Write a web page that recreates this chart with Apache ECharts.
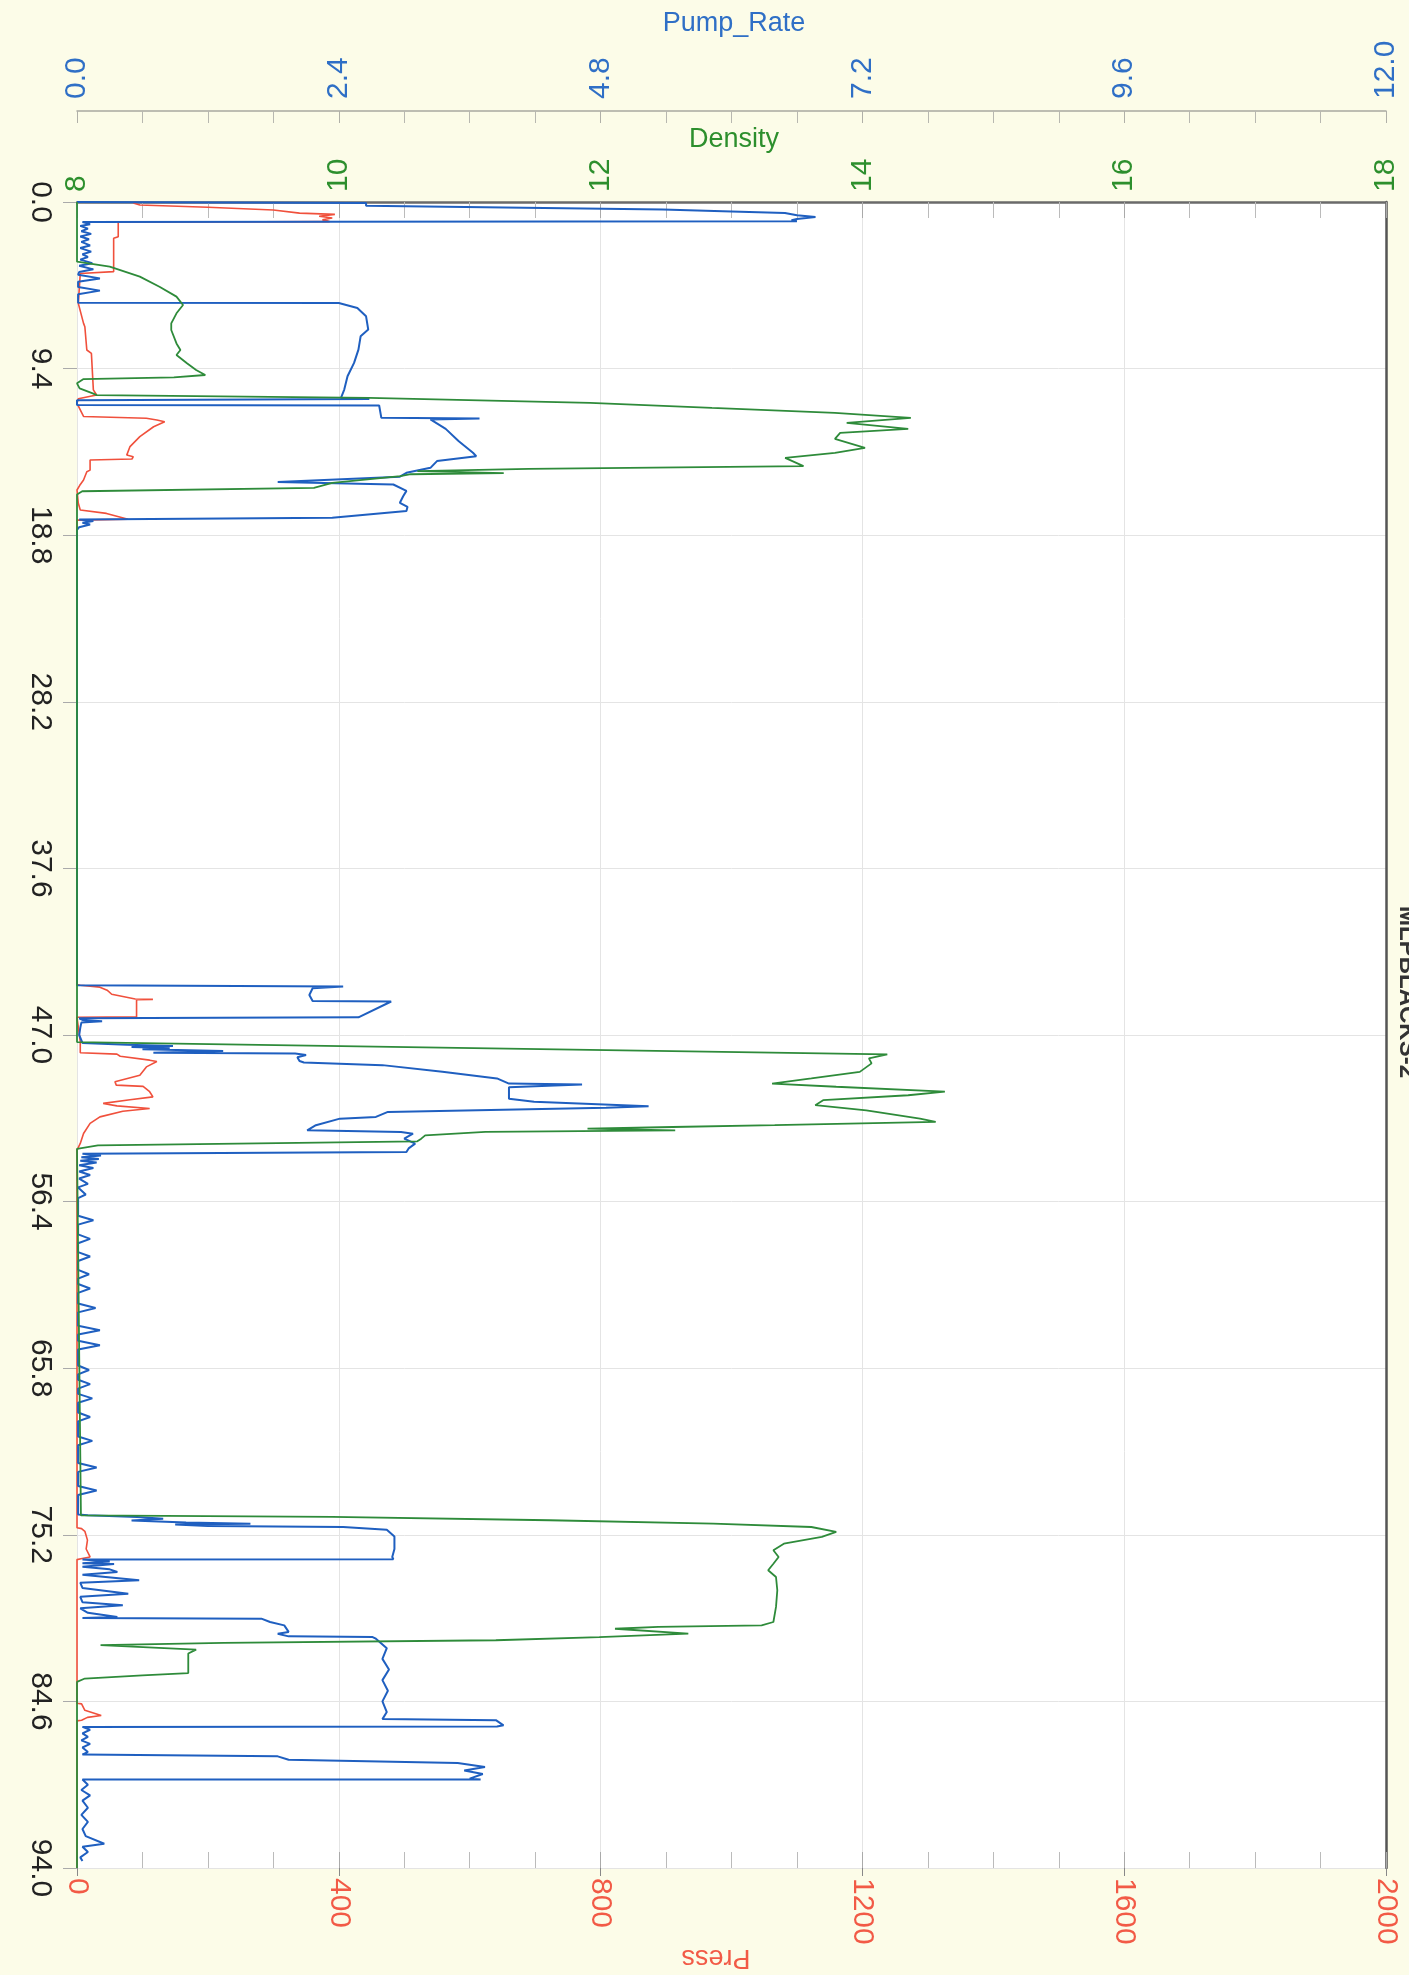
<!DOCTYPE html>
<html><head><meta charset="utf-8">
<script src="https://cdn.jsdelivr.net/npm/echarts@6.0.0/dist/echarts.min.js"></script>
<style>html,body{margin:0;padding:0;background:#fcfce8;}#c{width:1409px;height:1975px;}</style>
</head><body><div id="c"></div>
<script>
// ---- data (time in minutes) ----
const pumpT = [0,0.05,0.06,0.21,0.43,0.53,0.62,0.75,0.85,0.96,1.03,1.09,1.13,1.25,1.35,1.5,1.65,1.8,1.95,2.1,2.25,2.45,2.6,2.8,2.95,3.1,3.25,3.45,3.6,3.8,3.95,4.1,4.31,4.5,4.8,5.0,5.2,5.68,5.7,5.98,6.45,7.2,7.58,8.33,9.08,9.83,10.58,11.05,11.11,11.18,11.45,11.48,12.18,12.22,12.27,12.8,13.5,14.15,14.34,14.62,15.0,15.28,15.5,15.8,15.94,16.3,16.6,16.97,17.2,17.44,17.82,17.91,18.0,18.1,18.2,18.35,18.5,44.2,44.26,44.36,44.74,45.08,45.11,46.0,46.06,46.15,46.22,46.3,46.6,47.0,47.45,47.55,47.62,47.68,47.74,47.8,47.9,48.0,48.05,48.13,48.25,48.47,48.55,48.7,49.08,49.45,49.74,49.79,49.85,49.95,50.6,50.77,51.02,51.1,51.34,51.62,51.72,52.09,52.38,52.47,52.57,52.85,53.13,53.4,53.6,53.7,53.8,53.9,54.0,54.1,54.2,54.35,54.5,54.7,54.9,55.1,55.4,55.6,56.0,56.2,57.2,57.45,57.7,58.25,58.5,58.75,59.25,59.5,59.75,60.25,60.5,60.75,61.05,61.3,61.55,62.15,62.4,62.65,63.4,63.66,63.9,64.25,64.5,64.75,65.65,65.9,66.15,66.45,66.7,66.95,67.25,67.5,67.75,68.3,68.55,68.8,69.65,69.9,70.15,71.15,71.4,71.65,72.45,72.7,72.95,74.05,74.1,74.2,74.29,74.4,74.5,74.57,74.62,74.7,74.76,74.91,75.3,76.0,76.45,76.58,76.6,76.7,76.8,76.85,77.0,77.15,77.3,77.45,77.77,77.9,78.2,78.52,78.7,79.0,79.17,79.35,79.6,79.84,79.9,79.93,80.12,80.31,80.68,80.78,80.93,80.97,81.06,81.6,82.2,82.8,83.4,84.0,84.6,85.2,85.6,85.66,85.95,86.02,86.04,86.2,86.4,86.6,86.8,87.0,87.2,87.45,87.6,87.7,87.89,88.07,88.3,88.5,88.7,88.96,89.0,89.01,89.3,89.6,89.9,90.2,90.6,91.0,91.4,91.8,92.2,92.63,92.8,93.1,93.4,93.6];
const pumpRate = [0,0,2.65,2.65,5.37,6.0,6.49,6.6,6.77,6.6,6.55,6.6,0.05,0.12,0.03,0.1,0.04,0.13,0.03,0.11,0.04,0.12,0.03,0.13,0.05,0.1,0.03,0.14,0.02,0.15,0.02,0.01,0.21,0.01,0.01,0.21,0.01,0.01,2.4,2.57,2.65,2.67,2.6,2.58,2.54,2.48,2.45,2.42,2.68,0,0,2.77,2.79,3.69,3.24,3.38,3.5,3.63,3.66,3.3,3.24,3.02,2.96,1.84,2.9,3.02,2.99,2.96,3.03,3.02,2.34,0.02,0.15,0.05,0.12,0.02,0,0,2.44,2.16,2.13,2.16,2.88,2.58,0.02,0.05,0.23,0.04,0.03,0.02,0.05,0.46,0.88,0.5,0.85,0.6,1.34,0.7,2.0,2.1,2.02,2.04,2.08,2.8,3.35,3.85,3.96,4.63,4.38,3.96,3.96,4.19,5.24,4.85,2.85,2.74,2.41,2.19,2.11,2.97,3.08,3.0,3.1,3.04,3.02,0.05,0.22,0.04,0.2,0.03,0.18,0.02,0.15,0.02,0.12,0.02,0.1,0.01,0.08,0.01,0.01,0.15,0.01,0.01,0.12,0.01,0.01,0.12,0.01,0.01,0.11,0.01,0.01,0.12,0.01,0.01,0.17,0.01,0.01,0.21,0.01,0.01,0.21,0.01,0.01,0.11,0.01,0.01,0.12,0.01,0.01,0.14,0.01,0.01,0.12,0.01,0.01,0.14,0.01,0.01,0.18,0.01,0.01,0.18,0.01,0.01,0.1,0.55,0.79,0.5,1.0,1.59,0.9,1.2,2.44,2.84,2.91,2.91,2.89,2.9,0.05,0.3,0.05,0.34,0.05,0.3,0.37,0.05,0.57,0.03,0.05,0.47,0.03,0.05,0.42,0.03,0.1,0.37,0.05,1.69,1.77,1.9,1.94,1.84,1.94,2.71,2.74,2.84,2.8,2.86,2.8,2.85,2.8,2.84,2.8,3.84,3.91,3.85,0.05,0.12,0.05,0.1,0.04,0.12,0.05,0.1,0.05,1.84,1.94,3.49,3.74,3.55,3.72,3.6,3.7,0.05,0.1,0.04,0.12,0.05,0.1,0.04,0.1,0.05,0.08,0.25,0.05,0.1,0.03,0.05];

const densT = [0,3.37,3.65,4.21,4.78,5.34,5.81,6.28,6.85,7.22,7.98,8.35,8.63,9.1,9.48,9.76,9.9,9.99,10.23,10.52,10.8,10.9,11.05,11.33,11.62,11.9,12.18,12.46,12.8,13.03,13.36,13.87,14.15,14.44,14.9,15.06,15.19,15.3,15.36,15.47,15.85,16.13,16.32,16.5,47.4,48.09,48.32,48.6,49.08,49.45,49.74,49.92,50.2,50.4,50.68,50.96,51.25,51.72,51.9,52.09,52.19,52.28,52.38,52.47,52.66,52.85,53.0,53.23,53.42,74.1,74.19,74.38,74.57,74.76,75.04,75.32,75.7,76.07,76.45,76.83,77.2,77.58,78.33,79.27,80.12,80.31,80.4,80.5,80.78,80.97,81.15,81.3,81.43,81.53,81.68,81.9,83.0,83.13,83.31,83.5,94];
const density = [8,8,8.25,8.48,8.63,8.76,8.81,8.76,8.72,8.72,8.76,8.79,8.76,8.84,8.91,8.98,8.74,8.05,8,8.02,8.12,8.15,10.23,11.92,12.85,13.79,14.37,13.88,14.35,13.83,13.79,14.02,13.79,13.41,13.55,11.45,10.6,11.26,10.55,10.47,9.95,9.81,8.04,8,8,14.19,14.05,14.07,13.98,13.61,13.31,13.8,14.63,14.35,13.7,13.64,14.03,14.44,14.56,13.33,12.55,11.9,12.57,11.12,10.66,10.63,10.6,8.16,8,8.03,9.95,11.61,12.86,13.61,13.8,13.69,13.4,13.32,13.36,13.32,13.28,13.34,13.35,13.34,13.32,13.23,12.44,12.11,12.67,11.99,11.2,9.12,8.18,8.18,8.91,8.85,8.85,8.5,8.06,8,8];

const pressT = [0.05,0.17,0.3,0.45,0.63,0.7,0.8,0.9,1.0,1.11,1.14,1.96,2.05,3.93,4.03,5.72,5.81,6.85,7.04,8.35,8.54,10.6,10.89,10.99,11.1,11.36,12.1,12.2,12.3,12.4,12.68,13.24,13.8,14.28,14.37,14.5,14.56,15.13,15.22,15.69,16.0,16.25,17.0,17.38,17.57,17.9,17.95,44.15,44.19,44.3,44.47,44.7,44.97,44.99,45.01,45.98,46.0,47.38,48.0,48.08,48.2,48.42,48.5,48.8,49.27,49.64,49.83,49.9,50.2,50.49,50.65,50.86,51.0,51.15,51.2,51.3,51.62,51.99,52.56,53.12,53.5,74.8,74.85,75.0,75.5,76.0,76.45,76.55,76.6,84.7,84.74,85.1,85.4,85.5,85.66,85.7,94];
const press = [86,96,200,300,340,394,370,390,375,386,63,63,56,56,5,2,5,10,12,15,22,25,30,30,2,0,10,106,122,134,117,96,81,76,86,84,20,20,15,10,4,0,2,5,45,78,0,0,5,35,46,53,89,116,91,91,0,5,5,61,66,111,122,106,96,58,60,101,111,116,81,40,61,111,111,70,35,20,10,5,0,0,7,12,16,14,20,6,0,0,7,12,37,16,7,0,0];

const timeTicks = {min: 0, max: 94, step: 9.4};
const pumpTicks = {min: 0, max: 12, step: 2.4};
const densTicks = {min: 8, max: 18, step: 2};
const pressTicks = {min: 0, max: 2000, step: 400};

// ---- chart ----
const tickFont = "'Liberation Sans',Arial,sans-serif";
const titleFont = "'Liberation Sans',Arial,sans-serif";
const BLUE = '#1f5fc0', GREEN = '#2e8b3a', RED = '#f0503c';
const zip = (ts, vs) => ts.map((t, i) => [vs[i], t]);

const chart = echarts.init(document.getElementById('c'), null, {renderer: 'canvas'});
chart.setOption({
  animation: false,
  backgroundColor: '#fcfce8',
  grid: {left: 77, right: 23, top: 202, bottom: 107, show: true, backgroundColor: '#ffffff', borderWidth: 0, containLabel: false, outerBoundsMode: 'none'},
  xAxis: [
    {type: 'value', position: 'top', offset: 91, min: pumpTicks.min, max: pumpTicks.max, interval: pumpTicks.step,
     axisLine: {show: true, onZero: false, lineStyle: {color: '#a8a8a0', width: 1.5}},
     axisTick: {show: true, inside: true, length: 12, lineStyle: {color: '#b0b0a8'}},
     minorTick: {show: true, splitNumber: 4, length: 12, lineStyle: {color: '#b8b8b0'}},
     axisLabel: {rotate: -90, margin: 12, color: '#2f6fc6', fontSize: 30, fontFamily: tickFont, formatter: v => v.toFixed(1)},
     splitLine: {show: false}},
    {type: 'value', position: 'top', offset: 0, min: densTicks.min, max: densTicks.max, interval: densTicks.step,
     axisLine: {show: true, onZero: false, lineStyle: {color: '#6a6a6a', width: 2.5}},
     axisTick: {show: true, inside: true, length: 16, lineStyle: {color: '#aaaaaa'}},
     minorTick: {show: true, splitNumber: 4, length: 16, lineStyle: {color: '#bbbbbb'}},
     axisLabel: {rotate: -90, margin: 10, color: '#2d8f2d', fontSize: 30, fontFamily: tickFont, formatter: v => String(v)},
     splitLine: {show: false}},
    {type: 'value', position: 'bottom', min: pressTicks.min, max: pressTicks.max, interval: pressTicks.step,
     axisLine: {show: false, onZero: false},
     axisTick: {show: true, inside: true, length: 16, lineStyle: {color: '#aaaaaa'}},
     minorTick: {show: true, splitNumber: 4, length: 16, lineStyle: {color: '#bbbbbb'}},
     axisLabel: {rotate: -90, margin: 10, color: '#f25a46', fontSize: 30, fontFamily: tickFont, formatter: v => String(Math.round(v))},
     splitLine: {show: true, lineStyle: {color: '#e4e4e4', width: 1}}},
    {type: 'value', position: 'bottom', min: pressTicks.min, max: pressTicks.max, interval: pressTicks.step,
     axisLine: {show: false, onZero: false},
     axisTick: {show: true, inside: false, length: 8, lineStyle: {color: '#888888'}},
     minorTick: {show: false}, axisLabel: {show: false}, splitLine: {show: false}}
  ],
  yAxis: [
    {type: 'value', inverse: true, position: 'left', min: timeTicks.min, max: timeTicks.max, interval: timeTicks.step,
     axisLine: {show: false, onZero: false},
     axisTick: {show: true, length: 14, lineStyle: {color: '#aaaaaa'}},
     axisLabel: {rotate: -90, margin: 22, color: '#222222', fontSize: 30, fontFamily: tickFont,
                 formatter: v => (Math.round(v * 10) / 10).toFixed(1)},
     splitLine: {show: true, lineStyle: {color: '#e4e4e4', width: 1}}},
    {type: 'value', inverse: true, position: 'right', min: timeTicks.min, max: timeTicks.max,
     axisLine: {show: true, onZero: false, lineStyle: {color: '#555555', width: 2.5}},
     axisTick: {show: false}, axisLabel: {show: false}, splitLine: {show: false}}
  ],
  series: [
    {name: 'Press', type: 'line', xAxisIndex: 2, yAxisIndex: 0, data: zip(pressT, press), showSymbol: false, clip: false,
     lineStyle: {color: RED, width: 1.6}, z: 2},
    {name: 'Pump_Rate', type: 'line', xAxisIndex: 0, yAxisIndex: 0, data: zip(pumpT, pumpRate), showSymbol: false, clip: false,
     lineStyle: {color: BLUE, width: 2}, z: 3},
    {name: 'Density', type: 'line', xAxisIndex: 1, yAxisIndex: 0, data: zip(densT, density), showSymbol: false, clip: false,
     lineStyle: {color: GREEN, width: 1.8}, z: 4}
  ],
  graphic: [
    {type: 'text', x: 734, y: 24, style: {text: 'Pump_Rate', fill: '#2f6fc6', font: '27px ' + titleFont, align: 'center', verticalAlign: 'middle'}},
    {type: 'text', x: 734, y: 140, style: {text: 'Density', fill: '#2d8f2d', font: '27px ' + titleFont, align: 'center', verticalAlign: 'middle'}},
    {type: 'text', x: 716, y: 1957, rotation: Math.PI, style: {text: 'Press', fill: '#f25a46', font: '27px ' + titleFont, align: 'center', verticalAlign: 'middle'}},
    {type: 'text', x: 1407, y: 992, rotation: -Math.PI / 2, style: {text: 'MLPBLACKS-2', fill: '#333333', font: 'bold 24px ' + titleFont, align: 'center', verticalAlign: 'middle'}}
  ]
});
</script>
</body></html>
